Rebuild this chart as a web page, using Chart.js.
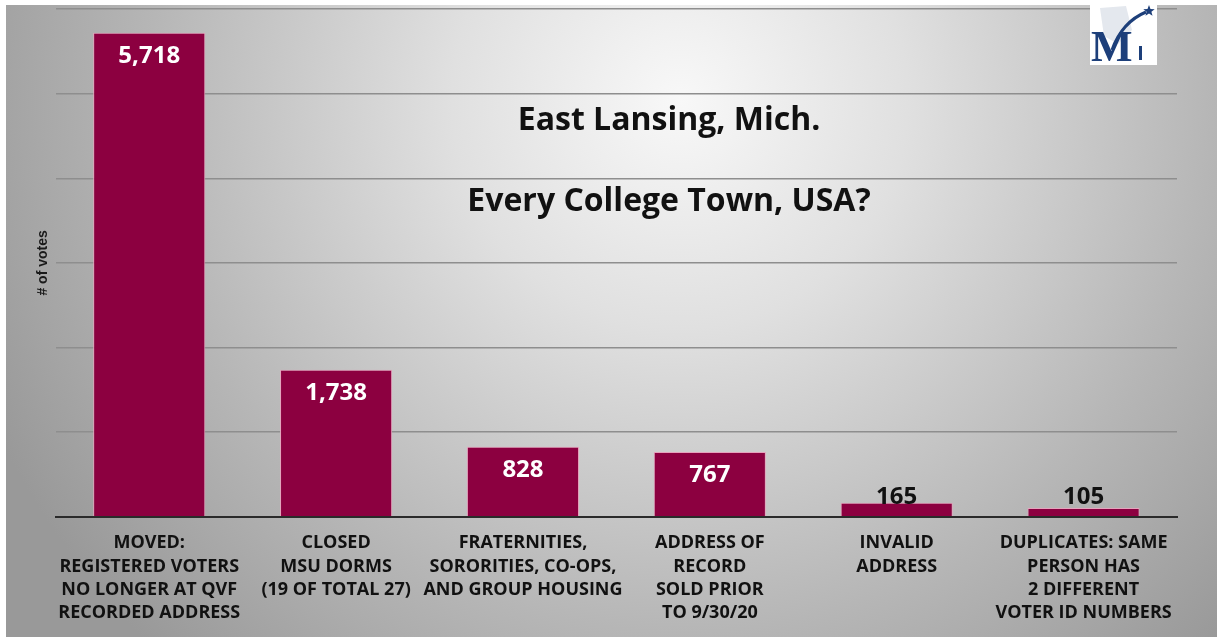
<!DOCTYPE html>
<html lang="en">
<head>
  <meta charset="UTF-8">
  <script src="https://cdn.jsdelivr.net/npm/chart.js"></script>
  <title>East Lansing, Mich.</title>
  <style>
    html, body { margin: 0; padding: 0; background: #fff; }
    #wrap { width: 1217px; height: 639px; position: relative; }
  </style>
</head>
<body>
<div id="wrap"><canvas id="votesChart"></canvas></div>
<script>
  // data
  const categories = [
    ['MOVED:', 'REGISTERED VOTERS', 'NO LONGER AT QVF', 'RECORDED ADDRESS'],
    ['CLOSED', 'MSU DORMS', '(19 OF TOTAL 27)'],
    ['FRATERNITIES,', 'SORORITIES, CO-OPS,', 'AND GROUP HOUSING'],
    ['ADDRESS OF', 'RECORD', 'SOLD PRIOR', 'TO 9/30/20'],
    ['INVALID', 'ADDRESS'],
    ['DUPLICATES: SAME', 'PERSON HAS', '2 DIFFERENT', 'VOTER ID NUMBERS']
  ];
  const votes = [5718, 1738, 828, 767, 165, 105];
  const titleLines = ['East Lansing, Mich.', 'Every College Town, USA?'];
  const yAxisTitle = '# of votes';

  const barColor = '#8c0040';
  const fontFamily = '"Open Sans", Lato, sans-serif';

  // gray slide background with a light spot near the top middle
  const backgroundPlugin = {
    id: 'slideBackground',
    beforeDraw(chart) {
      const ctx = chart.ctx;
      ctx.save();
      ctx.fillStyle = '#ffffff';
      ctx.fillRect(0, 0, chart.width, chart.height);
      const g = ctx.createRadialGradient(680, 100, 0, 680, 100, 760);
      g.addColorStop(0, '#f8f8f8');
      g.addColorStop(0.3, '#e0e0e0');
      g.addColorStop(0.7, '#b6b6b6');
      g.addColorStop(1, '#999999');
      ctx.fillStyle = g;
      ctx.fillRect(6, 5, chart.width - 6, chart.height - 7);
      ctx.restore();
    }
  };

  // value labels: white inside tall bars, dark above the short ones
  const valueLabelPlugin = {
    id: 'valueLabels',
    afterDatasetsDraw(chart) {
      const ctx = chart.ctx;
      const meta = chart.getDatasetMeta(0);
      const base = chart.scales.y.getPixelForValue(0);
      ctx.save();
      ctx.textAlign = 'center';
      ctx.textBaseline = 'middle';
      ctx.font = 'bold 24px ' + fontFamily;
      meta.data.forEach((bar, i) => {
        const text = votes[i].toLocaleString('en-US');
        if (base - bar.y > 40) {
          ctx.fillStyle = '#ffffff';
          ctx.fillText(text, bar.x, bar.y + 23);
        } else {
          ctx.fillStyle = '#111111';
          ctx.fillText(text, bar.x, base - 20);
        }
      });
      ctx.restore();
    }
  };

  // slide heading and logo
  const headingPlugin = {
    id: 'heading',
    afterDraw(chart) {
      const ctx = chart.ctx;
      ctx.save();
      ctx.textAlign = 'center';
      ctx.textBaseline = 'middle';
      ctx.fillStyle = '#111111';
      ctx.font = 'bold 32px ' + fontFamily;
      ctx.fillText(titleLines[0], 669, 121);
      ctx.fillText(titleLines[1], 669, 202);

      // logo box
      ctx.fillStyle = '#ffffff';
      ctx.fillRect(1090, 3, 67, 62);
      ctx.fillStyle = '#e4e8ee';
      ctx.beginPath();
      ctx.moveTo(1100, 8); ctx.lineTo(1126, 6); ctx.lineTo(1132, 30);
      ctx.lineTo(1118, 44); ctx.lineTo(1104, 36); ctx.closePath();
      ctx.fill();
      ctx.fillStyle = '#1d3f7a';
      ctx.font = 'bold 44px "Liberation Serif", serif';
      ctx.textAlign = 'left';
      ctx.textBaseline = 'alphabetic';
      ctx.fillText('M', 1091, 61);
      ctx.fillRect(1139, 46, 3, 14);
      ctx.strokeStyle = '#1d3f7a';
      ctx.lineWidth = 3;
      ctx.beginPath();
      ctx.moveTo(1112, 50);
      ctx.quadraticCurveTo(1122, 22, 1146, 12);
      ctx.stroke();
      // star
      ctx.beginPath();
      const cx = 1149, cy = 11, ro = 6, ri = 2.5;
      for (let k = 0; k < 10; k++) {
        const r = k % 2 === 0 ? ro : ri;
        const a = -Math.PI / 2 + k * Math.PI / 5;
        ctx.lineTo(cx + r * Math.cos(a), cy + r * Math.sin(a));
      }
      ctx.closePath();
      ctx.fill();
      ctx.restore();
    }
  };

  new Chart(document.getElementById('votesChart'), {
    type: 'bar',
    data: {
      labels: categories,
      datasets: [{
        data: votes,
        backgroundColor: barColor,
        borderColor: '#e6a3bd',
        borderWidth: 1,
        barPercentage: 0.6,
        categoryPercentage: 1.0
      }]
    },
    options: {
      responsive: true,
      maintainAspectRatio: false,
      animation: false,
      layout: { padding: { left: 32, right: 40, top: 9, bottom: 0 } },
      plugins: {
        legend: { display: false },
        tooltip: { enabled: false }
      },
      scales: {
        x: {
          grid: { display: false, drawTicks: false },
          border: { display: true, color: '#2a2a2a', width: 2 },
          ticks: {
            color: '#111111',
            padding: 15,
            maxRotation: 0,
            autoSkip: false,
            font: { family: fontFamily, weight: 'bold', size: 18, lineHeight: 1.28 }
          }
        },
        y: {
          min: 0,
          max: 6000,
          ticks: { display: false, stepSize: 1000 },
          grid: { color: '#8e8e8e', lineWidth: 1.5, drawTicks: false },
          border: { display: false },
          title: {
            display: true,
            text: yAxisTitle,
            color: '#1a1a1a',
            padding: { top: 3, bottom: 4 },
            font: { family: '"Liberation Sans", Arial, sans-serif', weight: 'bold', size: 14 }
          }
        }
      }
    },
    plugins: [backgroundPlugin, valueLabelPlugin, headingPlugin]
  });
</script>
</body>
</html>
